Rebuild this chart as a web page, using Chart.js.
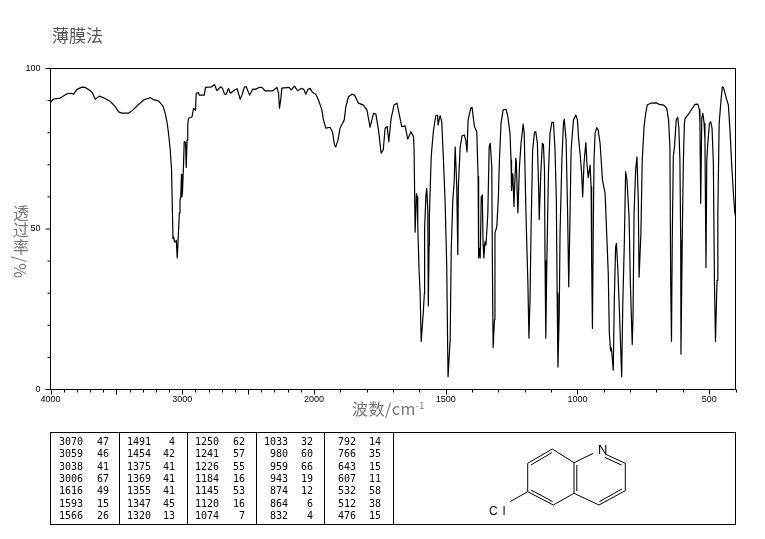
<!DOCTYPE html>
<html>
<head>
<meta charset="utf-8">
<script src="https://cdn.jsdelivr.net/npm/chart.js@4"></script>
<style>
  html, body { margin: 0; padding: 0; background: #fff; }
  #page { position: relative; width: 765px; height: 539px; overflow: hidden; }
  #irChart { position: absolute; left: 0; top: 0; }
  .cjk { position: absolute; font-family: "Noto Sans CJK SC", sans-serif; white-space: nowrap; }
  #sample { left: 52px; top: 23px; font-size: 17px; line-height: 24px; color: #555; }
  #xTitle { left: 352px; top: 397px; font-size: 16px; line-height: 22px; color: #777; letter-spacing: 0.5px; }
  #xTitle sup { font-size: 9px; line-height: 0; }
  #yTitle { left: 10px; top: 205px; font-size: 16px; line-height: 22px; color: #777; letter-spacing: 1px; writing-mode: vertical-rl; }
  #peakBox { position: absolute; left: 50px; top: 432px; width: 684px; height: 91px; border: 1px solid #000; }
  .divider { position: absolute; top: 0; width: 1px; height: 91px; background: #000; }
  .cell { position: absolute; height: 12px; line-height: 12px; text-align: right; font: 10px/12px "DejaVu Sans Mono", monospace; color: #000; }
  #molecule { position: absolute; left: 480px; top: 435px; }
  #molecule text { font-family: "Liberation Sans", sans-serif; fill: #000; }
</style>
</head>
<body>
<div id="page">
  <canvas id="irChart" width="765" height="539"></canvas>
  <div id="sample" class="cjk">薄膜法</div>
  <div id="xTitle" class="cjk">波数/cm<sup>-1</sup></div>
  <div id="yTitle" class="cjk">透过率/%</div>
  <div id="peakBox"></div>
  <svg id="molecule" width="160" height="85" viewBox="480 435 160 85" fill="none" stroke="#000" stroke-width="1">
    <path d="M527.7 463.3L552.3 449L574 462.7V493.3L553.3 505L527.7 491.7Z"/>
    <path d="M531 465L552 452.5M576.8 465V491M531 490L552.5 501.5"/>
    <path d="M574 462.7L593.3 453.3M605 454L625.3 463.3V490.7L599 505L574 493.3"/>
    <path d="M605 457.5L621.5 465M622 489L599.5 501.5"/>
    <path d="M527.7 491.7L510 501.7"/>
    <text x="598" y="454" font-size="13" stroke="none">N</text>
    <text x="489" y="515" font-size="12" letter-spacing="5" stroke="none">Cl</text>
  </svg>
</div>

<script>
// wavenumber (cm-1) and %T along the trace, row by row
const wavenumbers = [
  4000, 3976, 3926, 3880, 3850, 3825, 3799, 3761, 3736, 3698,
  3681, 3660, 3630, 3597, 3545, 3508, 3483, 3458, 3407, 3382,
  3332, 3294, 3243, 3212, 3180, 3146, 3129, 3116, 3104, 3091,
  3081, 3076, 3070, 3065, 3059, 3050, 3045, 3038, 3030, 3022,
  3017, 3011, 3006, 3003, 2998, 2990, 2985, 2975, 2970, 2963,
  2958, 2953, 2926, 2914, 2899, 2894, 2876, 2871, 2833, 2823,
  2775, 2755, 2737, 2709, 2694, 2679, 2666, 2649, 2634, 2603,
  2583, 2560, 2547, 2527, 2514, 2489, 2464, 2446, 2416, 2395,
  2370, 2315, 2281, 2269, 2262, 2251, 2244, 2188, 2173, 2148,
  2125, 2097, 2077, 2062, 2046, 2029, 2011, 1993, 1983, 1970,
  1964, 1955, 1939, 1930, 1922, 1917, 1909, 1901, 1885, 1879,
  1869, 1856, 1846, 1831, 1812, 1799, 1787, 1774, 1765, 1755,
  1745, 1737, 1730, 1722, 1716, 1707, 1696, 1685, 1677, 1667,
  1654, 1644, 1632, 1622, 1620, 1616, 1611, 1608, 1606, 1601,
  1597, 1593, 1585, 1581, 1580, 1575, 1572, 1568, 1566, 1563,
  1562, 1555, 1547, 1538, 1531, 1529, 1521, 1515, 1509, 1502,
  1496, 1493, 1491, 1483, 1479, 1473, 1468, 1464, 1458, 1454,
  1452, 1445, 1438, 1429, 1423, 1419, 1415, 1405, 1400, 1391,
  1382, 1377, 1375, 1372, 1369, 1365, 1361, 1358, 1355, 1351,
  1347, 1340, 1335, 1331, 1325, 1323, 1320, 1315, 1313, 1306,
  1300, 1296, 1290, 1282, 1271, 1264, 1256, 1252, 1250, 1245,
  1241, 1234, 1232, 1226, 1220, 1214, 1206, 1202, 1195, 1188,
  1184, 1180, 1176, 1170, 1163, 1158, 1152, 1147, 1145, 1139,
  1133, 1129, 1125, 1123, 1120, 1116, 1110, 1104, 1097, 1091,
  1085, 1080, 1077, 1074, 1069, 1066, 1059, 1053, 1050, 1043,
  1037, 1033, 1029, 1024, 1015, 1006, 1000, 996, 990, 984,
  980, 975, 968, 964, 959, 952, 948, 946, 943, 940,
  937, 933, 927, 921, 914, 905, 895, 889, 883, 879,
  874, 871, 864, 860, 855, 852, 847, 841, 836, 832,
  828, 822, 817, 812, 804, 799, 792, 789, 785, 779,
  774, 769, 766, 759, 754, 747, 741, 735, 722, 699,
  690, 672, 661, 654, 649, 646, 643, 640, 636, 631,
  625, 619, 615, 611, 608, 607, 602, 598, 594, 591,
  579, 566, 554, 543, 537, 535, 532, 528, 524, 519,
  516, 512, 509, 505, 499, 494, 489, 484, 480, 476,
  470, 467, 462, 455, 450, 446, 433, 427, 421, 414,
  408, 403, 400
];
const transmittance = [
  89.5, 90.5, 90.8, 92, 92.3, 92, 93.5, 94.2, 94.1, 93.1,
  92.3, 90.4, 91.4, 90.9, 89.7, 88.1, 86.5, 86.1, 86.1, 86.8,
  88.8, 90.2, 90.9, 90.2, 89.9, 88.3, 86, 83.4, 79.8, 74.6,
  68.4, 58, 47, 47.5, 46, 46, 46.5, 41, 47.6, 55,
  59, 60, 67, 60, 61.5, 70, 77.2, 77, 69.2, 77.7,
  82.4, 84.5, 84.9, 87.6, 87, 92.3, 92.5, 91.7, 91.7, 94.1,
  94.3, 95, 93.1, 94.3, 93.8, 92, 92, 93.8, 92.3, 93.3,
  93.7, 90.4, 91.7, 94.3, 94.3, 91.7, 93.6, 93.5, 94.1, 94.1,
  93, 93, 94.1, 92.3, 87.6, 90.7, 93.9, 94.1, 93.3, 94.5,
  93.1, 93.8, 93.5, 92, 93.5, 93.8, 92.5, 92, 90.2, 87.1,
  84, 81.4, 81.7, 80.3, 76.2, 75.6, 77.7, 81.4, 84, 88.1,
  91.2, 92, 91.7, 89.2, 88.6, 87.1, 81.7, 86, 85.8, 80.8,
  73.6, 74.6, 81.4, 81.9, 77.2, 84.5, 88.6, 89.2, 86, 81.9,
  82.1, 78, 80.3, 78.7, 74.6, 49, 61, 60, 51, 37,
  30, 15, 24, 30, 50, 60.6, 62.7, 56, 26, 45,
  54, 72.5, 80.3, 85.2, 85.5, 82.4, 85.3, 83.4, 72.5, 58,
  38.3, 16.4, 4, 15.4, 43.5, 59, 64.2, 75.6, 63.2, 42,
  63, 75.6, 79, 79.3, 77.2, 74, 84, 87.6, 87.9, 81.9,
  80.3, 66.3, 41, 44, 41, 60, 60.6, 45, 41, 46,
  45, 55, 75.6, 76.7, 69.4, 41.4, 13, 21.7, 48.8, 50.7,
  60, 71.5, 82.9, 87.1, 87.3, 85, 79.8, 71.5, 62, 67.2,
  57, 72, 71, 55, 69.4, 76.7, 82.7, 79.8, 53.8, 33,
  16, 27.9, 49.7, 74.6, 80.1, 80.3, 76.7, 62.1, 53, 67.4,
  76.7, 76.3, 68.4, 40, 16, 40.3, 67.4, 79.8, 83.2, 83.2,
  74.6, 59, 30, 7, 23.7, 48.8, 71.5, 83, 84.2, 77.7,
  53.8, 32, 49.7, 74.6, 84, 85.5, 84, 78.7, 73.6, 67.4,
  60, 70.5, 76.9, 70.5, 66, 69.9, 63.2, 40, 19, 48.8,
  71.5, 79.8, 81.6, 80.8, 76.7, 65.3, 61.1, 48.8, 36.3, 17.6,
  12, 13, 6, 27.9, 44.5, 45.5, 38.3, 25.4, 13.3, 4,
  25.8, 45.6, 67.9, 65.3, 53.8, 33, 14, 22.7, 55, 68.4,
  72.5, 59, 35, 48.8, 71.5, 81.9, 86, 88.6, 89.2, 89.3,
  88.8, 88.6, 87.6, 84, 75.6, 34, 15, 47.6, 72.5, 76.2,
  84, 84.8, 81.4, 71.5, 46.5, 11, 47.6, 70.5, 82.9, 84.5,
  85.7, 87.3, 88.8, 88.9, 87.1, 83, 58, 84.5, 86, 82.9,
  77.7, 38, 71.5, 76.7, 82.9, 83.4, 81.4, 70.5, 34, 15,
  34, 55, 82.9, 90.2, 94.3, 94.1, 90.2, 88.6, 80.8, 69.4,
  61.1, 55.4, 54
];

// peak list, seven rows per column
const peakWaves = [
  3070, 3059, 3038, 3006, 1616, 1593, 1566,
  1491, 1454, 1375, 1369, 1355, 1347, 1320,
  1250, 1241, 1226, 1184, 1145, 1120, 1074,
  1033, 980, 959, 943, 874, 864, 832,
  792, 766, 643, 607, 532, 512, 476
];
const peakValues = [
  47, 46, 41, 67, 49, 15, 26,
  4, 42, 41, 41, 41, 45, 13,
  62, 57, 55, 16, 53, 16, 7,
  32, 60, 66, 19, 12, 6, 4,
  14, 35, 15, 11, 58, 38, 15
];

const xLabels = [4000, 3000, 2000, 1500, 1000, 500];
const yLabels = [100, 50, 0];

// x axis runs 4000 -> 400 with the scale doubled below 2000
class WaveScale extends Chart.LinearScale {
  getPixelForValue(value) {
    const pos = value >= 2000 ? 4000 - value : 2000 + (2000 - value) * 2;
    return this.getPixelForDecimal(pos / 5200);
  }
}
WaveScale.id = 'wave';
WaveScale.defaults = Chart.LinearScale.defaults;
Chart.register(WaveScale);

// frame and the three lengths of tick mark
const axisMarks = {
  id: 'axisMarks',
  afterDraw(chart) {
    const { ctx, chartArea: a, scales } = chart;
    ctx.save();
    ctx.strokeStyle = '#000';
    ctx.lineWidth = 1;
    ctx.strokeRect(a.left, a.top, a.right - a.left, a.bottom - a.top);
    ctx.beginPath();
    scales.x.ticks.forEach(t => {
      const px = Math.round(scales.x.getPixelForValue(t.value)) + 0.5;
      const len = t.value % 500 === 0 ? 5 : 3;
      ctx.moveTo(px, a.bottom);
      ctx.lineTo(px, a.bottom + len);
    });
    scales.y.ticks.forEach(t => {
      const py = scales.y.getPixelForValue(t.value);
      const len = t.value % 50 === 0 ? 5 : 3;
      ctx.moveTo(a.left, py);
      ctx.lineTo(a.left - len, py);
    });
    ctx.stroke();
    ctx.restore();
  }
};

const tickFont = { family: '"Liberation Sans", sans-serif', size: 9 };

new Chart(document.getElementById('irChart'), {
  type: 'line',
  data: {
    datasets: [{
      data: wavenumbers.map((w, i) => ({ x: w, y: transmittance[i] })),
      borderColor: '#000',
      borderWidth: 1.2,
      borderJoinStyle: 'round',
      pointRadius: 0,
      tension: 0,
      fill: false
    }]
  },
  plugins: [axisMarks],
  options: {
    responsive: false,
    animation: false,
    devicePixelRatio: 1,
    layout: { padding: { left: 0, top: 68.5, right: 29.5, bottom: 0 } },
    plugins: { legend: { display: false }, title: { display: false }, tooltip: { enabled: false } },
    scales: {
      x: {
        type: 'wave',
        min: 400,
        max: 4000,
        grid: { display: false, drawTicks: false },
        border: { display: false },
        afterBuildTicks(scale) {
          const ticks = [];
          for (let w = 4000; w >= 400; w -= 100) ticks.push({ value: w });
          scale.ticks = ticks;
        },
        afterFit(scale) { scale.height = 149.5; },
        ticks: {
          autoSkip: false,
          maxRotation: 0,
          padding: 5,
          color: '#000',
          font: tickFont,
          callback: v => xLabels.includes(v) ? String(v) : ''
        }
      },
      y: {
        min: 0,
        max: 100,
        grid: { display: false, drawTicks: false },
        border: { display: false },
        afterFit(scale) { scale.width = 50.5; },
        ticks: {
          stepSize: 10,
          padding: 10,
          color: '#000',
          font: tickFont,
          callback: v => yLabels.includes(v) ? String(v) : ''
        }
      }
    }
  }
});

// peak table under the plot
const box = document.getElementById('peakBox');
const dividers = [68, 136, 205, 273, 342];
const waveRight = [32, 100, 168, 237, 305];
const valueRight = [58, 124, 194, 262, 330];

dividers.forEach(x => {
  const d = document.createElement('div');
  d.className = 'divider';
  d.style.left = x + 'px';
  box.appendChild(d);
});

function addCell(text, right, top) {
  const c = document.createElement('div');
  c.className = 'cell';
  c.textContent = text;
  c.style.left = (right - 40) + 'px';
  c.style.width = '40px';
  c.style.top = top + 'px';
  box.appendChild(c);
}

peakWaves.forEach((w, i) => {
  const col = Math.floor(i / 7);
  const top = 3 + (i % 7) * 12.3;
  addCell(w, waveRight[col], top);
  addCell(peakValues[i], valueRight[col], top);
});
</script>
</body>
</html>
